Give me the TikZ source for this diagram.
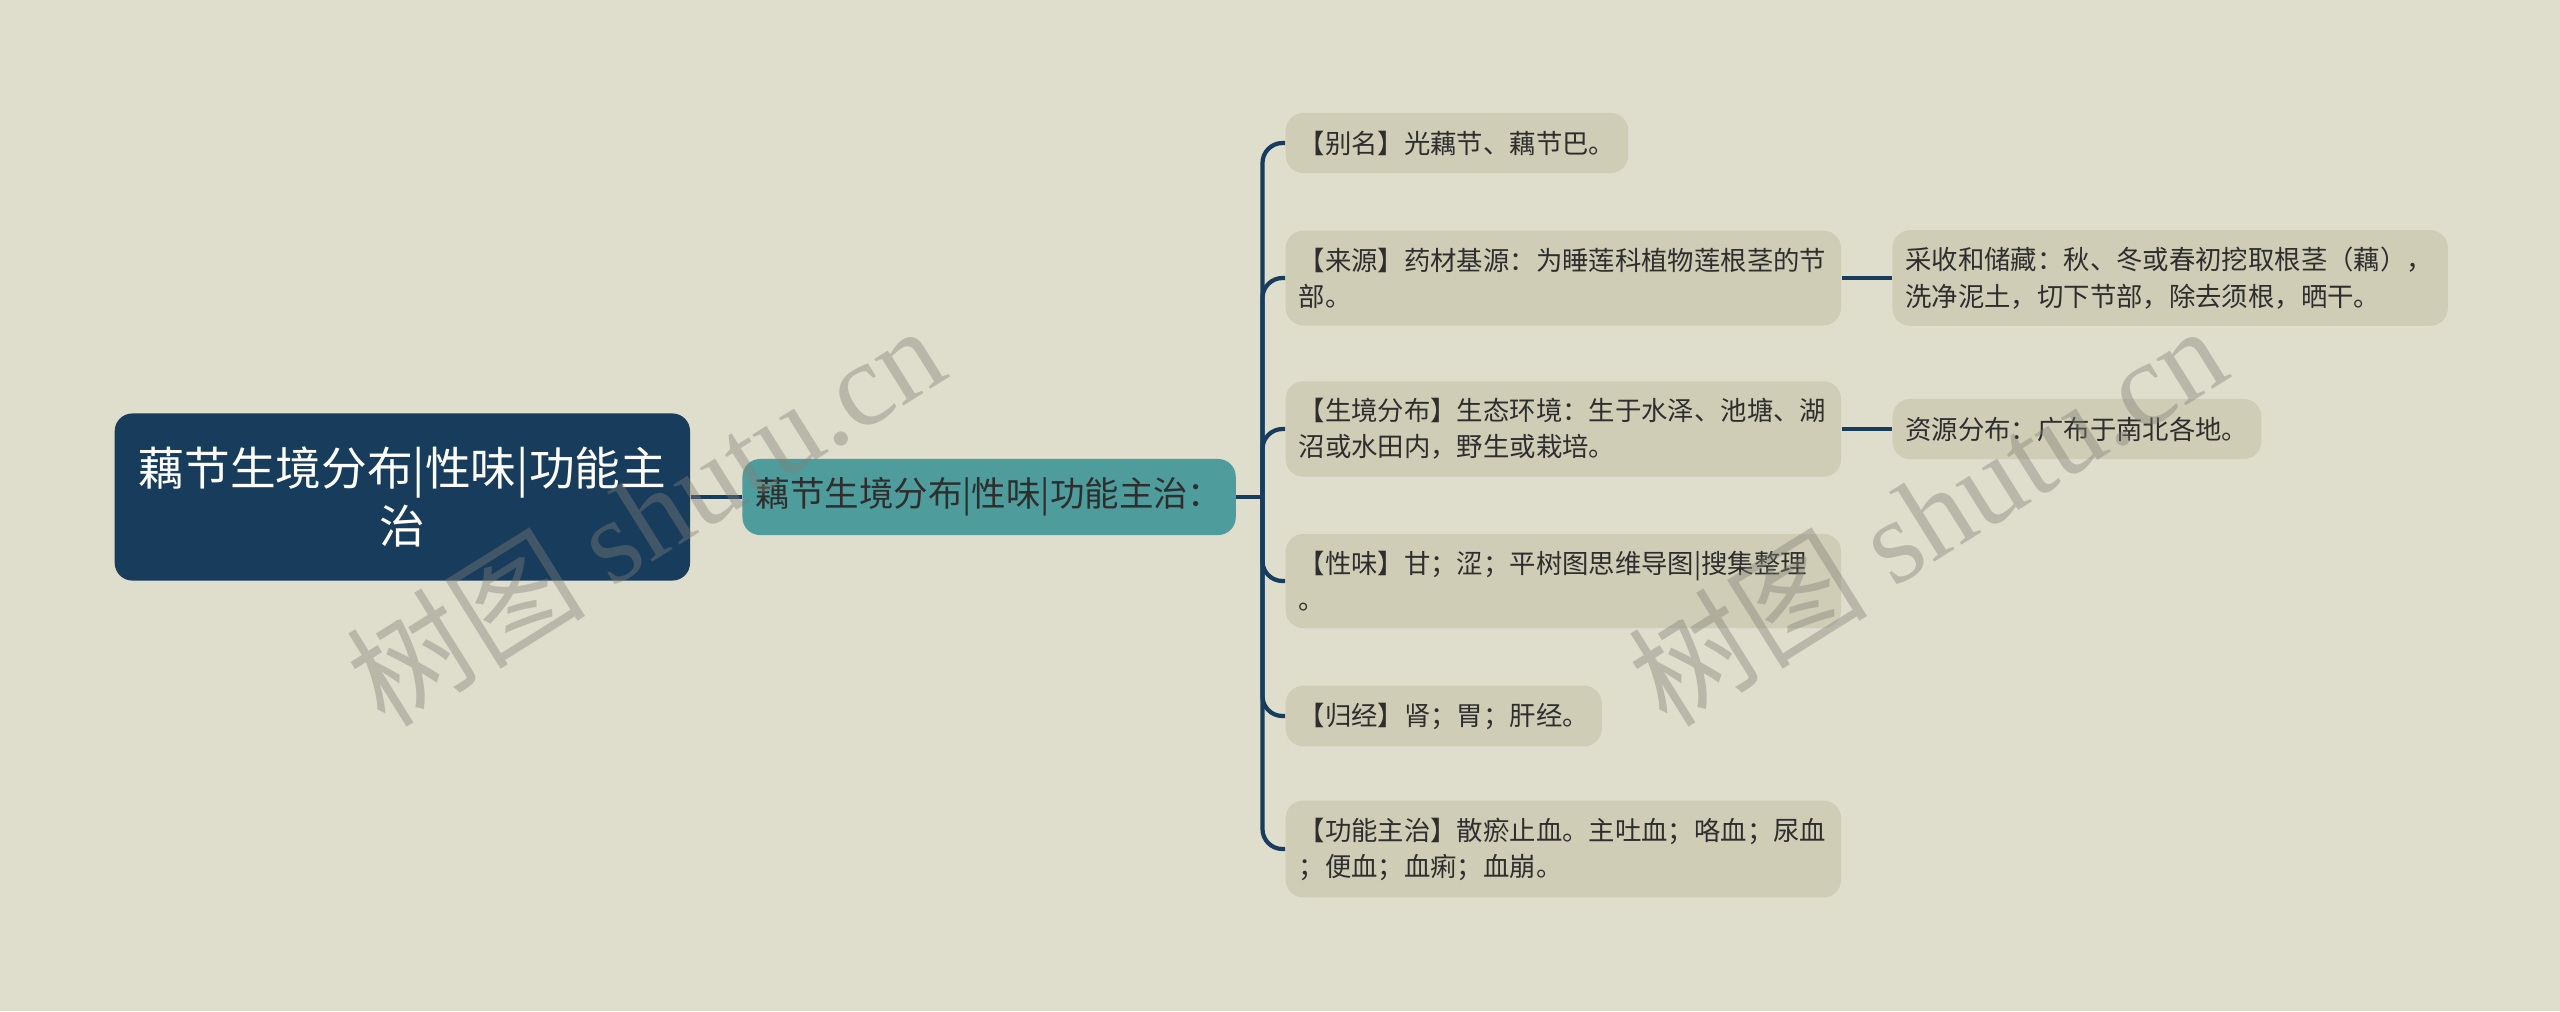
\documentclass[tikz,border=0pt]{standalone}
\usepackage{fontspec}
\setmainfont{Noto Sans CJK SC}
\newfontfamily\wmfont{Liberation Serif}
\usetikzlibrary{positioning}
\definecolor{bgcol}{HTML}{DFDDCC}
\definecolor{rootcol}{HTML}{173C5C}
\definecolor{midcol}{HTML}{4F9C9C}
\definecolor{leafcol}{HTML}{CFCDB6}
\definecolor{txtcol}{HTML}{2E2E2E}
\definecolor{wmcol}{HTML}{808078}
\tikzset{%
	root/.style  = {rectangle, rounded corners=5pt, fill=rootcol, text=white, font=\fontsize{13}{16.3}\selectfont, align=center, minimum width=5.75cm, minimum height=1.67cm}, % Main topic
	topic/.style = {rectangle, rounded corners=5pt, fill=midcol, text=txtcol, font=\fontsize{9.8}{12}\selectfont, minimum width=4.93cm, minimum height=0.76cm}, % Sub topic
	leaf/.style  = {rectangle, rounded corners=5pt, fill=leafcol, text=txtcol, font=\fontsize{7.5}{10.3}\selectfont, align=left, inner xsep=0.13cm, inner ysep=0.17cm, minimum height=0.6cm}, % Leaf
	wide/.style  = {text width=5.29cm},
	link/.style  = {draw=rootcol, line width=1.2pt, rounded corners=0.2cm},
	wmark/.style = {text=wmcol, opacity=0.4, rotate=32, font=\fontsize{34}{34}\selectfont},
}

\begin{document}
\begin{tikzpicture}[x=0.01cm,y=-0.01cm,node distance=0.5cm]
	\fill[bgcol] (0,0) rectangle (2560,1011);

	\node [root,anchor=west] (root) at (114,497) {藕节生境分布|性味|功能主\\治};
	\node [topic] (mid) [right=0.51cm of root] {藕节生境分布|性味|功能主治：};
	\coordinate [right=0.26cm of mid] (hub);

	\node [leaf,anchor=west] (alias) at (1285,143) {【别名】光藕节、藕节巴。};
	\node [leaf,wide,anchor=west] (source) at (1285,278) {【来源】药材基源：为睡莲科植物莲根茎的节\\部。};
	\node [leaf,wide,anchor=west] (habitat) at (1285,429) {【生境分布】生态环境：生于水泽、池塘、湖\\沼或水田内，野生或栽培。};
	\node [leaf,wide,anchor=west] (taste) at (1285,581) {【性味】甘；涩；平树图思维导图|搜集整理\\。};
	\node [leaf,anchor=west] (meridian) at (1285,716) {【归经】肾；胃；肝经。};
	\node [leaf,wide,anchor=west] (usage) at (1285,849) {【功能主治】散瘀止血。主吐血；咯血；尿血\\；便血；血痢；血崩。};

	\node [leaf,wide] (harvest) [right=of source] {采收和储藏：秋、冬或春初挖取根茎（藕），\\洗净泥土，切下节部，除去须根，晒干。};
	\node [leaf] (spread) [right=of habitat] {资源分布：广布于南北各地。};

	\draw[link] (root) -- (mid);
	\draw[link] (mid) -- (hub);
	\draw[link] (hub) |- (alias);
	\draw[link] (hub) |- (source);
	\draw[link] (hub) |- (habitat);
	\draw[link] (hub) |- (taste);
	\draw[link] (hub) |- (meridian);
	\draw[link] (hub) |- (usage);
	\draw[link] (source) -- (harvest);
	\draw[link] (habitat) -- (spread);

	% watermarks
	\node [wmark] (wm1) at (645,514) {树图 {\wmfont shutu.cn}};
	\node [wmark] (wm2) at (1927,514) {树图 {\wmfont shutu.cn}};
\end{tikzpicture}
\end{document}
